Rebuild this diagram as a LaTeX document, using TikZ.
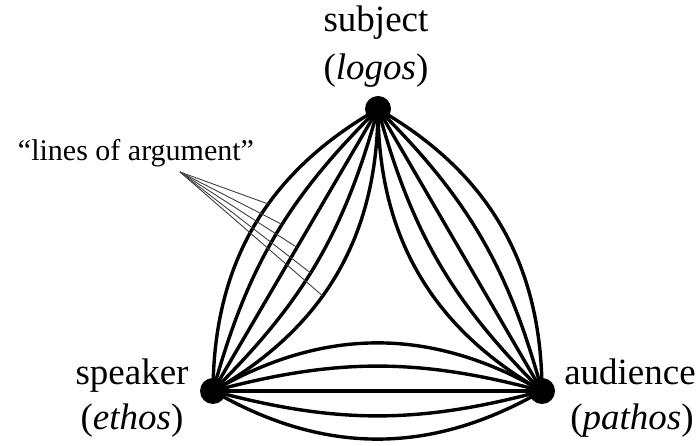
\documentclass[tikz,border=0pt]{standalone}
\usepackage{fontspec}
\setmainfont{Liberation Serif}
\newfontfamily\labfont{Liberation Serif}
\usepackage{tikz}

\begin{document}
\begin{tikzpicture}[
    x=1pt, y=1pt,
    dot/.style={circle, fill, inner sep=0pt, minimum size=26pt},
    lab/.style={font=\labfont\fontsize{37}{44}\selectfont, inner sep=0pt, anchor=base},
    arg/.style={line width=3.4pt},
    ptr/.style={line width=0.9pt, black!75}]
  \useasboundingbox (0,0) rectangle (699,446);
  \node[dot] (spk) at (213,55) {};
  \node[dot] (aud) at (542,55) {};
  \node[dot] (subj) at (378,337) {};
  \node[lab] (spktxt) at (132,61) {speaker};
  \node[lab] (ethos) at (132,16) {(\textit{ethos})};
  \node[lab] (audtxt) at (630,61) {audience};
  \node[lab] (pathos) at (632,16) {(\textit{pathos})};
  \node[lab] (subjtxt) at (376,414) {subject};
  \node[lab] (logos) at (376,366) {(\textit{logos})};
  \node[lab, font=\labfont\fontsize{30}{36}\selectfont] (argtxt) at (136,285) {“lines of argument”};
  \coordinate (argtip) at (180,274);
  % five lines between each pair
  \foreach \b/\p/\i in {30/0.58/1, 15/0.55/2, 0/0.51/3, -15/0.46/4, -30/0.42/5}
    \draw[arg] (spk.center) to[bend left=\b] coordinate[pos=\p] (arg\i) (subj.center);
  \foreach \b in {30,15,0,-15,-30} {
    \draw[arg] (subj.center) to[bend left=\b] (aud.center);
    \draw[arg] (aud.center) to[bend left=\b] (spk.center);
  }
  \foreach \i in {1,...,5}
    \draw[ptr] (argtip) -- (arg\i);
\end{tikzpicture}
\end{document}
